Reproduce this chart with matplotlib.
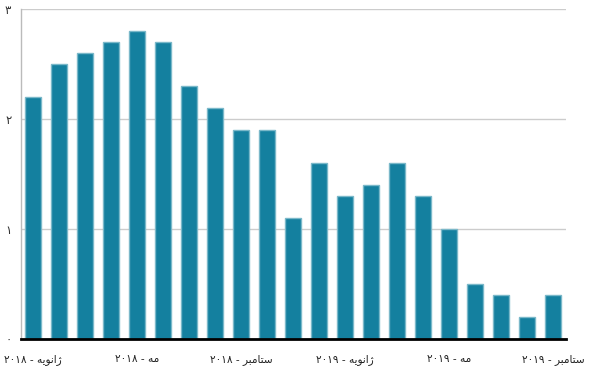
import matplotlib.pyplot as plt

# monthly values, Jan 2018 .. Sep 2019
values = [2.2, 2.5, 2.6, 2.7, 2.8, 2.7, 2.3, 2.1, 1.9, 1.9, 1.1,
          1.6, 1.3, 1.4, 1.6, 1.3, 1.0, 0.5, 0.4, 0.2, 0.4]

# x tick labels every 4 months (Persian, written in visual order with presentation forms)
jan = '\uFEEA\uFBFE\uFEEE\uFEE7\uFE8D\uFB8A'   # ژانویه
may = '\uFEEA\uFEE3'                           # مه
sep = '\uFEAE\uFE92\uFEE3\uFE8E\uFE98\uFEB3'   # ستامبر
y18 = '\u06F2\u06F0\u06F1\u06F8'
y19 = '\u06F2\u06F0\u06F1\u06F9'
tick_pos = [0, 4, 8, 12, 16, 20]
tick_labels = [y18 + ' - ' + jan, y18 + ' - ' + may, y18 + ' - ' + sep,
               y19 + ' - ' + jan, y19 + ' - ' + may, y19 + ' - ' + sep]

ytick_vals = [0, 1, 2, 3]
ytick_labels = ['\u06F0', '\u06F1', '\u06F2', '\u06F3']

plt.rcParams['font.family'] = ['DejaVu Sans']

fig = plt.figure(figsize=(5.92, 3.71), dpi=100)
ax = fig.add_axes([21/592, 32/371, 545/592, 330/371])

x = list(range(len(values)))
ax.bar(x, values, width=0.63, color='#14809f', edgecolor='#7ab8c9', linewidth=1, zorder=3)

ax.set_xlim(-0.46, 20.5)
ax.set_ylim(0, 3)
ax.set_yticks(ytick_vals)
ax.set_yticklabels(ytick_labels, fontsize=8.5, color='#333333')
ax.set_xticks(tick_pos)
ax.set_xticklabels(tick_labels, fontsize=7.6, color='#222222')
ax.tick_params(axis='both', length=0)
ax.tick_params(axis='x', pad=11)
ax.tick_params(axis='y', pad=7)

ax.grid(axis='y', color='#cccccc', linewidth=1, zorder=0)
for s in ['top', 'right']:
    ax.spines[s].set_visible(False)
ax.spines['left'].set_color('#bbbbbb')
ax.spines['left'].set_linewidth(1)
ax.spines['bottom'].set_color('black')
ax.spines['bottom'].set_linewidth(2)
ax.spines['bottom'].set_zorder(4)

plt.savefig('out.png')
plt.close()
